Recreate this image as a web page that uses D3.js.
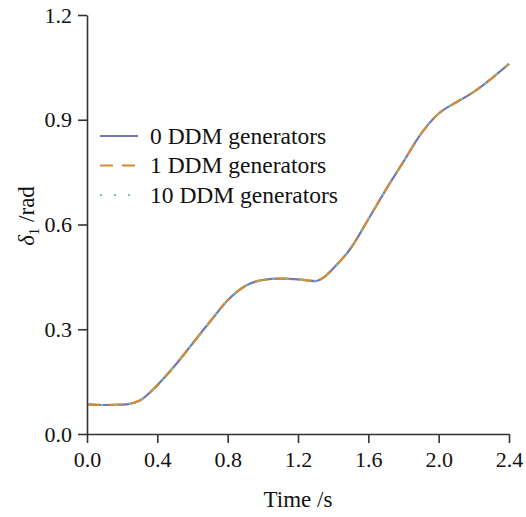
<!DOCTYPE html>
<html>
<head>
<meta charset="utf-8">
<script src="https://cdn.jsdelivr.net/npm/d3@7"></script>
<style>
  html, body { margin: 0; padding: 0; background: #fff; }
  svg { display: block; }
  text { font-family: "Liberation Serif", "Times New Roman", serif; fill: #111; }
</style>
</head>
<body>
<svg id="chart" width="526" height="517"></svg>
<script>
// Rotor angle of generator 1 versus time
const time = [0, 0.1, 0.2, 0.3, 0.4, 0.5, 0.6, 0.7, 0.8, 0.9, 1.0, 1.1, 1.2, 1.25, 1.3, 1.35, 1.4, 1.5, 1.6, 1.7, 1.8, 1.9, 2.0, 2.1, 2.2, 2.3, 2.4];
const delta0 = [0.085, 0.083, 0.084, 0.096, 0.140, 0.196, 0.259, 0.322, 0.383, 0.424, 0.441, 0.445, 0.443, 0.440, 0.438, 0.450, 0.474, 0.532, 0.615, 0.700, 0.780, 0.860, 0.918, 0.950, 0.980, 1.018, 1.060];
const delta1 = delta0.slice();
const delta10 = delta0.slice();

const seriesNames = ["0 DDM generators", "1 DDM generators", "10 DDM generators"];
const seriesColors = ["#7377b3", "#d98a2e", "#74c3b5"];
const seriesDash = [null, "13,9", "2,12"];
const seriesValues = [delta0, delta1, delta10];

const xTicks = [0, 0.4, 0.8, 1.2, 1.6, 2.0, 2.4];
const yTicks = [0, 0.3, 0.6, 0.9, 1.2];

const W = 526, H = 517;
const margin = { left: 87, top: 15, right: 17, bottom: 83 };
const svg = d3.select("#chart");

const x = d3.scaleLinear().domain([0, 2.4]).range([margin.left, W - margin.right]);
const y = d3.scaleLinear().domain([0, 1.2]).range([H - margin.bottom, margin.top]);

// Curves: solid, then dashed, then dotted on top
const line = d3.line().curve(d3.curveMonotoneX);
seriesValues.forEach((vals, i) => {
  const pts = time.map((t, k) => [x(t), y(vals[k])]);
  svg.append("path")
    .attr("d", line(pts))
    .attr("fill", "none")
    .attr("stroke", seriesColors[i])
    .attr("stroke-width", 2.2)
    .attr("stroke-dasharray", seriesDash[i]);
});

// Axes
const xAxis = svg.append("g")
  .attr("transform", `translate(0,${H - margin.bottom})`)
  .call(d3.axisBottom(x).tickValues(xTicks).tickFormat(d3.format(".1f")).tickSizeOuter(0).tickSizeInner(9).tickPadding(8));
const yAxis = svg.append("g")
  .attr("transform", `translate(${margin.left},0)`)
  .call(d3.axisLeft(y).tickValues(yTicks).tickFormat(d3.format(".1f")).tickSizeOuter(0).tickSizeInner(9).tickPadding(6));

[xAxis, yAxis].forEach(g => {
  g.select(".domain").attr("stroke", "#333").attr("stroke-width", 1.6);
  g.selectAll(".tick line").attr("stroke", "#333").attr("stroke-width", 1.6);
  g.selectAll(".tick text")
    .attr("font-size", 22)
    .attr("font-family", "Liberation Serif, Times New Roman, serif")
    .attr("fill", "#111");
});

// Axis titles
svg.append("text")
  .attr("x", (x(0) + x(2.4)) / 2)
  .attr("y", 507)
  .attr("text-anchor", "middle")
  .attr("font-size", 23)
  .text("Time /s");

const yTitle = svg.append("text")
  .attr("transform", `translate(34,216) rotate(-90)`)
  .attr("text-anchor", "middle")
  .attr("font-size", 23);
yTitle.append("tspan").attr("font-style", "italic").text("δ");
yTitle.append("tspan").attr("font-size", 15).attr("dy", 5).text("1");
yTitle.append("tspan").attr("dy", -5).text(" /rad");

// Legend
const legend = svg.append("g");
seriesNames.forEach((name, i) => {
  const ly = 136 + i * 29.5;
  legend.append("line")
    .attr("x1", 100).attr("x2", 138)
    .attr("y1", ly).attr("y2", ly)
    .attr("stroke", seriesColors[i])
    .attr("stroke-width", 2.2)
    .attr("stroke-dasharray", seriesDash[i]);
  legend.append("text")
    .attr("x", 150).attr("y", ly + 7.5)
    .attr("font-size", 23.5)
    .text(name);
});
</script>
</body>
</html>
